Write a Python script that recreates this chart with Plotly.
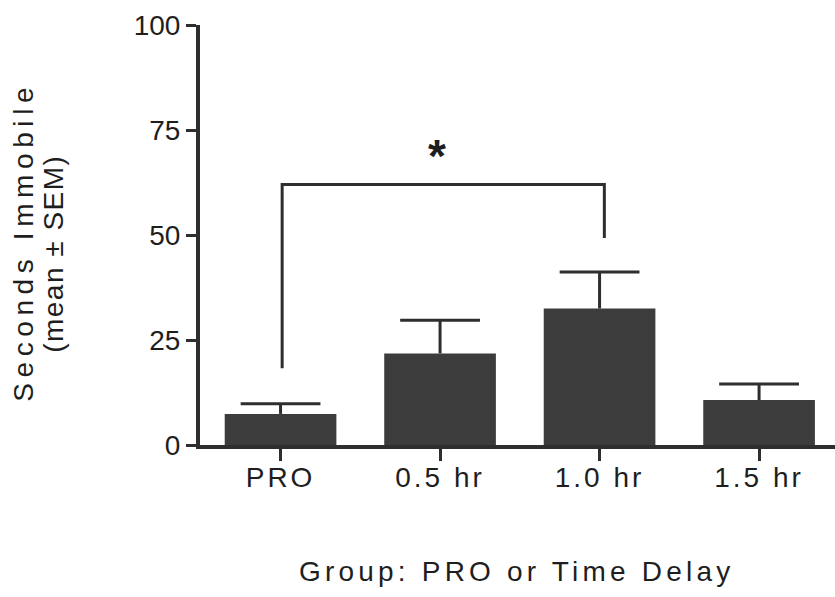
import plotly.graph_objects as go

# Group labels and immobility data (mean and SEM, seconds)
groups = ["PRO", "0.5 hr", "1.0 hr", "1.5 hr"]
mean_immobile = [7.4, 21.8, 32.5, 10.7]
sem_immobile = [2.4, 7.9, 8.7, 3.8]

# Significance bracket between PRO and 1.0 hr
bracket_x = [0.01, 0.01, 2.03, 2.03]
bracket_y = [18.3, 62.0, 62.0, 49.3]
star_pos = (0.98, 68.8)

y_ticks = [0, 25, 50, 75, 100]

INK = "#1e1e1e"
LINE = "#2e2e2e"
BAR = "#3c3c3c"
FONT = "Liberation Sans, Arial, Helvetica, sans-serif"


def spaced(text, px):
    return f'<span style="letter-spacing:{px}px">{text}</span>'


x_pos = list(range(len(groups)))
err_top = [m + s for m, s in zip(mean_immobile, sem_immobile)]

fig = go.Figure()
fig.add_trace(go.Bar(
    x=x_pos,
    y=mean_immobile,
    width=0.70,
    marker=dict(color=BAR, line=dict(width=0)),
    error_y=dict(type="data", array=sem_immobile, arrayminus=[0] * len(groups),
                 symmetric=False, color=LINE, thickness=3, width=0),
    showlegend=False,
))
# Caps on the upper end of each SEM whisker
fig.add_trace(go.Scatter(
    x=x_pos, y=err_top, mode="markers",
    marker=dict(symbol="line-ew", size=57, color=LINE,
                line=dict(color=LINE, width=3)),
    showlegend=False, hoverinfo="skip",
))
fig.add_trace(go.Scatter(
    x=bracket_x, y=bracket_y, mode="lines",
    line=dict(color=LINE, width=3), showlegend=False, hoverinfo="skip",
))

fig.add_annotation(x=star_pos[0], y=star_pos[1], xref="x", yref="y",
                   text="<b>*</b>", showarrow=False,
                   font=dict(family=FONT, size=46, color=INK))

# Axis titles
fig.add_annotation(xref="paper", yref="paper", x=0.498, y=-0.30,
                   text=spaced("Group: PRO or Time Delay", 4.2), showarrow=False,
                   xanchor="center", yanchor="middle",
                   font=dict(family=FONT, size=28, color=INK))
fig.add_annotation(xref="paper", yref="paper", x=-0.278, y=0.485,
                   text=spaced("Seconds Immobile", 5.6), showarrow=False,
                   textangle=-90, xanchor="center", yanchor="middle",
                   font=dict(family=FONT, size=28, color=INK))
fig.add_annotation(xref="paper", yref="paper", x=-0.230, y=0.455,
                   text=spaced("(mean ± SEM)", 1.5), showarrow=False,
                   textangle=-90, xanchor="center", yanchor="middle",
                   font=dict(family=FONT, size=28, color=INK))

fig.update_layout(
    width=835, height=597,
    margin=dict(l=200, r=0, t=25, b=152),
    plot_bgcolor="white", paper_bgcolor="white",
    font=dict(family=FONT, size=28, color=INK),
    xaxis=dict(
        range=[-0.505, 3.476],
        tickvals=x_pos,
        ticktext=[spaced(g, 3) for g in groups],
        showgrid=False, zeroline=False,
        showline=True, linecolor=LINE, linewidth=4,
        ticks="outside", ticklen=12, tickwidth=3, tickcolor=LINE,
        ticklabelstandoff=-8,
        tickfont=dict(family=FONT, size=28, color=INK),
    ),
    yaxis=dict(
        range=[0, 100],
        tickvals=y_ticks,
        showgrid=False, zeroline=False,
        showline=True, linecolor=LINE, linewidth=4,
        ticks="outside", ticklen=10, tickwidth=3, tickcolor=LINE,
        tickfont=dict(family=FONT, size=28, color=INK),
    ),
)

fig.write_html("out.html")
